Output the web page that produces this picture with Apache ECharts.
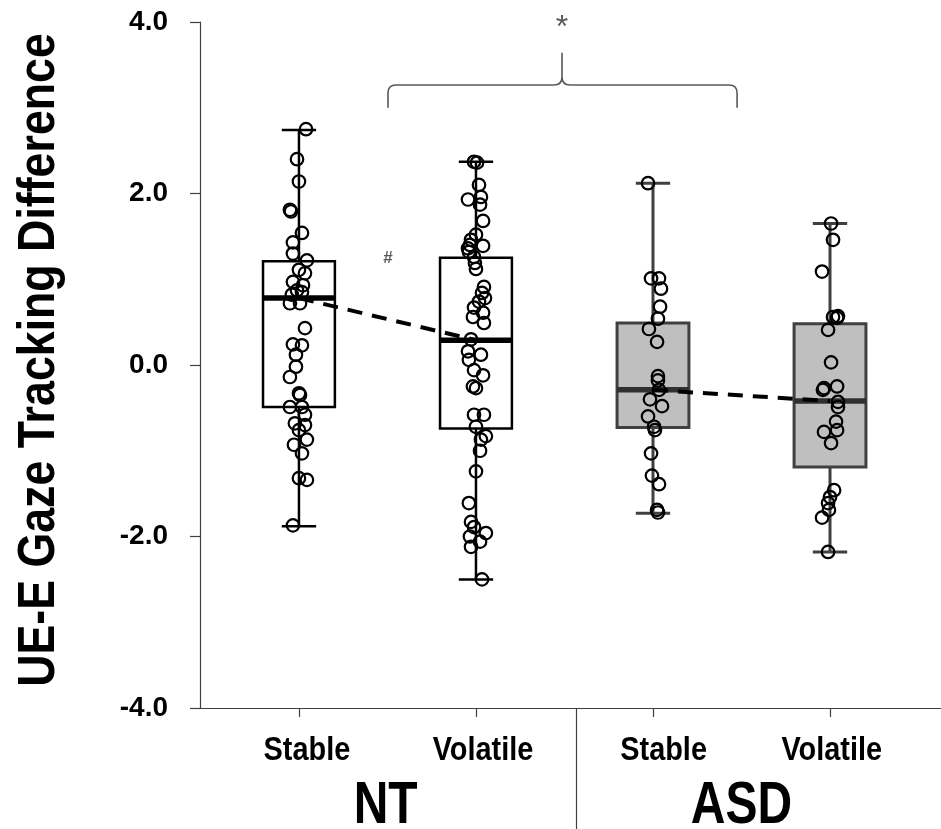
<!DOCTYPE html>
<html>
<head>
<meta charset="utf-8">
<script src="https://cdn.jsdelivr.net/npm/echarts@6/dist/echarts.min.js"></script>
<style>
  html, body { margin: 0; padding: 0; background: #fff; }
  #chart { width: 941px; height: 829px; }
</style>
</head>
<body>
<div id="chart"></div>
<script>
// Conditions along the x axis and the two participant groups
const conditions = ['Stable', 'Volatile', 'Stable', 'Volatile'];
const groups = ['NT', 'ASD'];
const yTicks = [-4, -2, 0, 2, 4];

// Five-number summaries: [min, Q1, median, Q3, max]
const ntStableBox = [-1.88, -0.49, 0.78, 1.21, 2.74];
const ntVolatileBox = [-2.50, -0.74, 0.29, 1.25, 2.37];
const asdStableBox = [-1.73, -0.73, -0.29, 0.49, 2.12];
const asdVolatileBox = [-2.18, -1.19, -0.42, 0.48, 1.65];

// Individual participant scores and their horizontal jitter (in category units)
const ntStableValues = [2.75, 2.40, 2.14, 1.81, 1.79, 1.54, 1.43, 1.30, 1.22, 1.11, 1.07, 0.97, 0.93, 0.87, 0.85, 0.82, 0.72, 0.72, 0.43, 0.24, 0.23, 0.12, -0.02, -0.14, -0.33, -0.35, -0.49, -0.49, -0.58, -0.68, -0.70, -0.76, -0.87, -0.93, -1.03, -1.32, -1.34, -1.87];
const ntStableJitter = [0.040, -0.011, 0.000, -0.051, -0.045, 0.017, -0.034, -0.034, 0.045, 0.000, 0.034, -0.034, 0.023, -0.011, 0.017, -0.040, -0.051, 0.006, 0.034, -0.034, 0.017, -0.017, -0.017, -0.051, 0.000, 0.006, -0.051, 0.017, 0.034, -0.023, 0.034, 0.000, 0.045, -0.028, 0.017, 0.000, 0.045, -0.034];

const ntVolatileValues = [2.37, 2.36, 2.10, 1.96, 1.93, 1.87, 1.68, 1.52, 1.46, 1.40, 1.39, 1.36, 1.32, 1.26, 1.19, 1.12, 0.91, 0.84, 0.78, 0.74, 0.67, 0.61, 0.56, 0.49, 0.30, 0.16, 0.12, 0.06, -0.06, -0.12, -0.25, -0.27, -0.58, -0.58, -0.72, -0.83, -0.87, -1.00, -1.24, -1.61, -1.83, -1.89, -1.96, -2.00, -2.06, -2.12, -2.50];
const ntVolatileJitter = [-0.011, 0.006, 0.017, 0.028, -0.045, 0.023, 0.040, 0.000, -0.028, -0.034, 0.040, -0.045, -0.040, -0.011, -0.006, 0.000, 0.045, 0.034, 0.051, 0.017, -0.011, 0.040, -0.017, 0.045, -0.028, -0.045, 0.028, -0.040, -0.011, 0.040, -0.017, 0.000, -0.011, 0.045, 0.000, 0.056, 0.028, 0.023, 0.000, -0.040, -0.028, -0.011, 0.056, -0.034, 0.023, -0.028, 0.034];

const asdStableValues = [2.12, 1.01, 1.01, 0.89, 0.68, 0.54, 0.42, 0.27, -0.13, -0.18, -0.29, -0.40, -0.48, -0.60, -0.72, -0.76, -1.03, -1.29, -1.39, -1.69, -1.72];
const asdStableJitter = [-0.028, -0.011, 0.034, 0.045, 0.040, 0.028, -0.023, 0.023, 0.028, 0.028, 0.034, -0.017, 0.051, -0.028, 0.006, 0.011, -0.011, -0.006, 0.034, 0.023, 0.028];

const asdVolatileValues = [1.65, 1.46, 1.09, 0.56, 0.57, 0.55, 0.41, 0.03, -0.27, -0.25, -0.29, -0.43, -0.49, -0.66, -0.76, -0.78, -0.91, -1.46, -1.54, -1.61, -1.69, -1.78, -2.18];
const asdVolatileJitter = [0.006, 0.017, -0.045, 0.017, 0.045, 0.040, -0.011, 0.006, -0.034, 0.040, -0.040, 0.045, 0.045, 0.034, 0.040, -0.034, 0.006, 0.023, 0.000, -0.011, -0.006, -0.045, -0.011];

// Where the text labels sit along the x axis (category units)
const conditionLabelAt = [0.045, 1.04, 2.06, 3.01];
const groupLabelAt = [0.49, 2.5];

const SANS = "'Liberation Sans', Arial, sans-serif";

const boxes = [ntStableBox, ntVolatileBox, asdStableBox, asdVolatileBox];
const boxData = boxes.map((b, i) => [i].concat(b));

const pointSets = [
  [ntStableValues, ntStableJitter],
  [ntVolatileValues, ntVolatileJitter],
  [asdStableValues, asdStableJitter],
  [asdVolatileValues, asdVolatileJitter]
];
const pointData = [];
pointSets.forEach(([vals, jit], i) => {
  vals.forEach((v, k) => pointData.push([i + jit[k], v]));
});

// Box styling per group (NT open boxes, ASD shaded boxes)
const groupStyle = [
  { fill: '#ffffff', stroke: '#000000', median: '#000000', width: 2.5 },
  { fill: '#bfbfbf', stroke: '#404040', median: '#303030', width: 3 }
];

function renderBox(params, api) {
  const x = api.value(0);
  const st = groupStyle[x < 2 ? 0 : 1];
  const band = api.size([1, 0])[0];
  const half = band * 0.203;
  const capHalf = band * 0.097;
  const pMin = api.coord([x, api.value(1)]);
  const pQ1 = api.coord([x, api.value(2)]);
  const pMed = api.coord([x, api.value(3)]);
  const pQ3 = api.coord([x, api.value(4)]);
  const pMax = api.coord([x, api.value(5)]);
  const cx = pMed[0];
  const lineStyle = { stroke: st.stroke, lineWidth: st.width };
  return {
    type: 'group',
    children: [
      { type: 'line', shape: { x1: cx, y1: pMax[1], x2: cx, y2: pQ3[1] }, style: lineStyle },
      { type: 'line', shape: { x1: cx, y1: pQ1[1], x2: cx, y2: pMin[1] }, style: lineStyle },
      { type: 'line', shape: { x1: cx - capHalf, y1: pMax[1], x2: cx + capHalf, y2: pMax[1] }, style: lineStyle },
      { type: 'line', shape: { x1: cx - capHalf, y1: pMin[1], x2: cx + capHalf, y2: pMin[1] }, style: lineStyle },
      { type: 'rect', shape: { x: cx - half, y: pQ3[1], width: half * 2, height: pQ1[1] - pQ3[1] },
        style: { fill: st.fill, stroke: st.stroke, lineWidth: st.width } },
      { type: 'line', shape: { x1: cx - half, y1: pMed[1], x2: cx + half, y2: pMed[1] },
        style: { stroke: st.median, lineWidth: 5.5 } }
    ]
  };
}

// Condensed bold labels under the axis: condition names, then group names
function renderConditionLabel(params, api) {
  const p = api.coord([api.value(0), yTicks[0]]);
  return {
    type: 'text', x: p[0], y: p[1] + 43, scaleX: 0.85,
    style: { text: conditions[params.dataIndex], font: 'bold 34px ' + SANS, fill: '#000', align: 'center', verticalAlign: 'middle' }
  };
}
function renderGroupLabel(params, api) {
  const p = api.coord([api.value(0), yTicks[0]]);
  return {
    type: 'text', x: p[0], y: p[1] + 98, scaleX: 0.8,
    style: { text: groups[params.dataIndex], font: 'bold 60px ' + SANS, fill: '#000', align: 'center', verticalAlign: 'middle' }
  };
}

// Significance bracket between the two groups, with its markers
const bracket = { left: 0.503, right: 2.475, mid: 1.486, bar: 3.265, end: 3.0, peak: 3.64, star: 3.93 };
const trendMark = { x: 0.503, y: 1.25 };

function renderBracket(params, api) {
  const L = api.coord([bracket.left, bracket.end]);
  const R = api.coord([bracket.right, bracket.end]);
  const M = api.coord([bracket.mid, bracket.peak]);
  const yb = api.coord([0, bracket.bar])[1];
  const star = api.coord([bracket.mid, bracket.star]);
  const hash = api.coord([trendMark.x, trendMark.y]);
  const r = 8;
  const path =
    'M' + L[0] + ' ' + L[1] + ' L' + L[0] + ' ' + (yb + r) +
    ' Q' + L[0] + ' ' + yb + ' ' + (L[0] + r) + ' ' + yb +
    ' L' + (M[0] - r) + ' ' + yb +
    ' Q' + M[0] + ' ' + yb + ' ' + M[0] + ' ' + (yb - r) +
    ' L' + M[0] + ' ' + M[1] +
    ' M' + M[0] + ' ' + (yb - r) +
    ' Q' + M[0] + ' ' + yb + ' ' + (M[0] + r) + ' ' + yb +
    ' L' + (R[0] - r) + ' ' + yb +
    ' Q' + R[0] + ' ' + yb + ' ' + R[0] + ' ' + (yb + r) +
    ' L' + R[0] + ' ' + R[1];
  return {
    type: 'group',
    children: [
      { type: 'path', shape: { pathData: path }, style: { fill: null, stroke: '#595959', lineWidth: 1.6 } },
      { type: 'text', x: star[0], y: star[1],
        style: { text: '*', fill: '#595959', font: '32px ' + SANS, align: 'center', verticalAlign: 'middle' } },
      { type: 'text', x: hash[0], y: hash[1],
        style: { text: '#', fill: '#595959', font: 'bold 17px ' + SANS, align: 'center', verticalAlign: 'middle' } }
    ]
  };
}

const chart = echarts.init(document.getElementById('chart'), null, { renderer: 'canvas' });

const xMin = -0.559, xMax = 3.627;
const axisColor = '#404040';

chart.setOption({
  animation: false,
  backgroundColor: '#ffffff',
  grid: { left: 200, right: 0, top: 22, bottom: 121, containLabel: false, outerBoundsMode: 'none' },
  xAxis: [
    {
      type: 'value', min: xMin, max: xMax, position: 'bottom',
      axisLine: { show: true, onZero: false, lineStyle: { color: axisColor, width: 1.2 } },
      axisTick: { show: true, customValues: [0, 1, 2, 3], length: 9, lineStyle: { color: axisColor, width: 1.2 } },
      axisLabel: { show: false },
      splitLine: { show: false }
    },
    {
      // second bottom axis carries the divider between the NT and ASD groups
      type: 'value', min: xMin, max: xMax, position: 'bottom',
      axisLine: { show: false, onZero: false },
      axisTick: { show: true, customValues: [1.565], length: 121, lineStyle: { color: axisColor, width: 1.2 } },
      axisLabel: { show: false },
      splitLine: { show: false }
    }
  ],
  yAxis: {
    type: 'value', min: yTicks[0], max: yTicks[yTicks.length - 1], interval: 2,
    axisLine: { show: true, onZero: false, lineStyle: { color: axisColor, width: 1.2 } },
    axisTick: { show: true, length: 10, lineStyle: { color: axisColor, width: 1.2 } },
    axisLabel: {
      formatter: v => v.toFixed(1),
      margin: 32, color: '#000', fontFamily: SANS, fontWeight: 'bold', fontSize: 28
    },
    splitLine: { show: false }
  },
  graphic: [
    {
      type: 'text', x: 40, y: 360, rotation: Math.PI / 2, scaleX: 0.86,
      style: {
        text: 'UE-E Gaze Tracking Difference', fill: '#000',
        font: 'bold 52px ' + SANS, align: 'center', verticalAlign: 'middle'
      }
    }
  ],
  series: [
    { type: 'custom', name: 'boxes', xAxisIndex: 0, renderItem: renderBox, data: boxData, z: 2 },
    {
      type: 'line', name: 'NT medians', xAxisIndex: 0, data: [[0, ntStableBox[2]], [1, ntVolatileBox[2]]],
      symbol: 'none', lineStyle: { color: '#000', width: 4, type: [15, 10] }, z: 3, silent: true
    },
    {
      type: 'line', name: 'ASD medians', xAxisIndex: 0, data: [[2, asdStableBox[2]], [3, asdVolatileBox[2]]],
      symbol: 'none', lineStyle: { color: '#000', width: 4, type: [15, 10] }, z: 3, silent: true
    },
    {
      type: 'scatter', name: 'participants', xAxisIndex: 0, data: pointData,
      symbol: 'circle', symbolSize: 12.5,
      itemStyle: { color: 'rgba(0,0,0,0)', borderColor: '#000', borderWidth: 2.2, opacity: 1 },
      z: 4, silent: true
    },
    { type: 'custom', name: 'bracket', xAxisIndex: 0, renderItem: renderBracket, data: [[0, 0]], z: 5, silent: true },
    { type: 'custom', name: 'conditions', xAxisIndex: 0, renderItem: renderConditionLabel,
      data: conditionLabelAt.map(x => [x, yTicks[0]]), silent: true },
    { type: 'custom', name: 'groups', xAxisIndex: 0, renderItem: renderGroupLabel,
      data: groupLabelAt.map(x => [x, yTicks[0]]), silent: true }
  ]
});
</script>
</body>
</html>
